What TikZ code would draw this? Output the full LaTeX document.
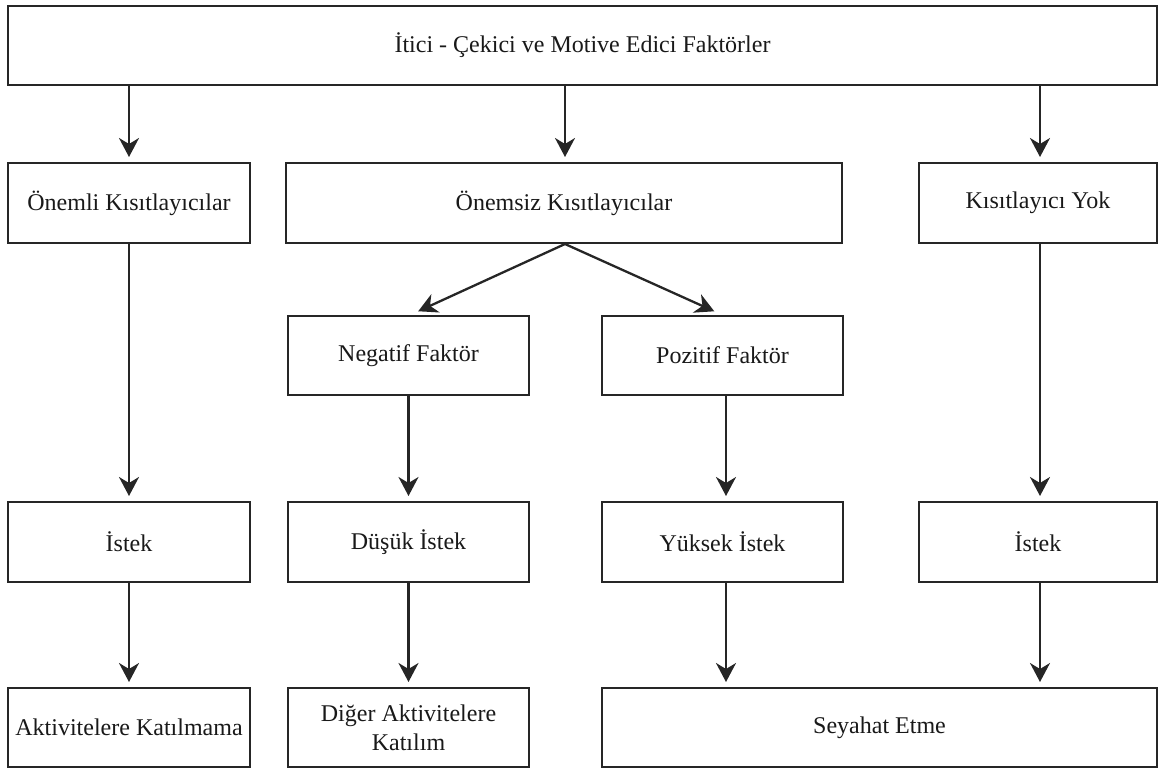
\documentclass[tikz,border=0pt]{standalone}
\usepackage{fontspec}
\setmainfont{Liberation Serif}
\usetikzlibrary{arrows.meta,calc}

\begin{document}
\begin{tikzpicture}[x=1pt,y=-1pt,
  box/.style={draw=black!85, line width=2pt, fill=white, inner sep=0pt,
    align=center, font=\fontsize{24}{29}\selectfont, text=black!90},
  link/.style={draw=black!85, line width=2.3pt,
    -{Stealth[length=19pt,width=20pt,inset=6pt]}, shorten >=5pt}
]
\useasboundingbox (0,0) rectangle (1159,769);

% top factor box
\node[box, minimum width=1149pt, minimum height=79pt] (top) at (582.5,45.5)
  {İtici - Çekici ve Motive Edici Faktörler};

% second row: constraint types
\node[box, minimum width=242pt, minimum height=80pt] (onemli) at (129,203)
  {Önemli Kısıtlayıcılar};
\node[box, minimum width=556pt, minimum height=80pt] (onemsiz) at (564,203)
  {Önemsiz Kısıtlayıcılar};
\node[box, minimum width=238pt, minimum height=80pt] (yok) at (1038,203)
  {Kısıtlayıcı Yok};

% third row: factor sign
\node[box, minimum width=241pt, minimum height=79pt] (neg) at (408.5,355.5)
  {Negatif Faktör};
\node[box, minimum width=241pt, minimum height=79pt] (poz) at (722.5,355.5)
  {Pozitif Faktör};

% fourth row: desire
\node[box, minimum width=242pt, minimum height=80pt] (istekA) at (129,542) {İstek};
\node[box, minimum width=241pt, minimum height=80pt] (dusuk) at (408.5,542) {Düşük İstek};
\node[box, minimum width=241pt, minimum height=80pt] (yuksek) at (722.5,542) {Yüksek İstek};
\node[box, minimum width=238pt, minimum height=80pt] (istekB) at (1038,542) {İstek};

% bottom row: outcomes
\node[box, minimum width=242pt, minimum height=79pt] (katilmama) at (129,727.5)
  {Aktivitelere Katılmama};
\node[box, minimum width=241pt, minimum height=79pt] (diger) at (408.5,727.5)
  {Diğer Aktivitelere\\Katılım};
\node[box, minimum width=555pt, minimum height=79pt] (seyahat) at (879.5,727.5)
  {Seyahat Etme};

% connectors from the top box
\draw[link] (top.south -| onemli.north) -- (onemli.north);
\draw[link] ($(top.south)+(-17.5,0)$) -- ($(onemsiz.north)+(1,0)$);
\draw[link] ($(top.south -| yok.north)+(2,0)$) -- ($(yok.north)+(2,0)$);

% split into negative / positive factors
\draw[link, shorten >=9pt] ($(onemsiz.south)+(1,0)$) -- ($(neg.north)+(1.5,0)$);
\draw[link, shorten >=9pt] ($(onemsiz.south)+(1,0)$) -- (poz.north);

% vertical chains
\draw[link] (onemli.south) -- (istekA.north);
\draw[link] (neg.south) -- (dusuk.north);
\draw[link] ($(poz.south)+(3.5,0)$) -- ($(yuksek.north)+(3.5,0)$);
\draw[link] ($(yok.south)+(2,0)$) -- ($(istekB.north)+(2,0)$);

\draw[link] (istekA.south) -- (katilmama.north);
\draw[link] (dusuk.south) -- (diger.north);
\draw[link] ($(yuksek.south)+(3.5,0)$) -- ($(yuksek.south |- seyahat.north)+(3.5,0)$);
\draw[link] ($(istekB.south)+(2,0)$) -- ($(istekB.south |- seyahat.north)+(2,0)$);
\end{tikzpicture}
\end{document}
